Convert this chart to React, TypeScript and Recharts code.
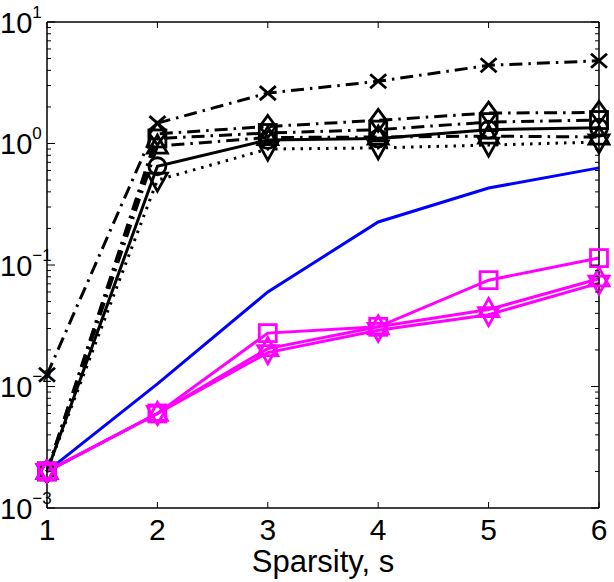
import React from 'react';
import { LineChart, Line, XAxis, YAxis } from 'recharts';

// sparsity levels on the x axis
const sparsity = [1, 2, 3, 4, 5, 6];

// black reference curves
const blackCross = [0.0125, 1.47, 2.6, 3.25, 4.4, 4.8];
const blackDiamond = [0.002, 1.2, 1.38, 1.55, 1.78, 1.8];
const blackSquare = [0.002, 1.1, 1.22, 1.3, 1.5, 1.56];
const blackCircle = [0.002, 0.65, 1.07, 1.1, 1.3, 1.35];
const blackTriUp = [0.002, 0.95, 1.12, 1.13, 1.15, 1.13];
const blackTriDown = [0.002, 0.5, 0.9, 0.92, 0.97, 1.03];

// blue curve (no markers)
const blueLine = [0.002, 0.0105, 0.06, 0.226, 0.43, 0.63];

// magenta curves
const magSquare = [0.002, 0.006, 0.0275, 0.031, 0.075, 0.114];
const magTriUp = [0.002, 0.006, 0.0205, 0.031, 0.043, 0.077];
const magTriDown = [0.002, 0.006, 0.019, 0.029, 0.039, 0.071];

// log ticks: 1..9 per decade from 1e-3 up to 1e1
const decadeExps = [-3, -2, -1, 0];
const yTicks: number[] = [];
decadeExps.forEach(e => {
  for (let m = 1; m <= 9; m++) yTicks.push(m * Math.pow(10, e));
});
yTicks.push(10);

const data = sparsity.map((s, i) => ({
  s,
  bCross: blackCross[i],
  bDiamond: blackDiamond[i],
  bSquare: blackSquare[i],
  bCircle: blackCircle[i],
  bTriUp: blackTriUp[i],
  bTriDown: blackTriDown[i],
  blue: blueLine[i],
  mSquare: magSquare[i],
  mTriUp: magTriUp[i],
  mTriDown: magTriDown[i],
}));

const FONT = '"Liberation Sans Narrow", "Arial Narrow", "Liberation Sans", Arial, sans-serif';
const MAGENTA = '#ff00ff';

const isDecade = (v: number) => {
  const l = Math.log10(v);
  return Math.abs(l - Math.round(l)) < 1e-6;
};

type Shape = 'x' | 'diamond' | 'square' | 'circle' | 'up' | 'down';

function Mark({ cx, cy, shape, color }: { cx: number; cy: number; shape: Shape; color: string }) {
  if (cx == null || cy == null) return null;
  const common = { fill: 'none', stroke: color, strokeWidth: 2.8 };
  switch (shape) {
    case 'x':
      return (
        <g {...common}>
          <line x1={cx - 8} y1={cy - 7} x2={cx + 8} y2={cy + 7} />
          <line x1={cx - 8} y1={cy + 7} x2={cx + 8} y2={cy - 7} />
        </g>
      );
    case 'diamond':
      return <polygon {...common} points={`${cx},${cy - 11} ${cx + 8},${cy} ${cx},${cy + 11} ${cx - 8},${cy}`} />;
    case 'square':
      return <rect {...common} x={cx - 8.5} y={cy - 8.5} width={17} height={17} />;
    case 'circle':
      return <circle {...common} cx={cx} cy={cy} r={8.5} />;
    case 'up':
      return <polygon {...common} points={`${cx},${cy - 11} ${cx + 10},${cy + 7} ${cx - 10},${cy + 7}`} />;
    case 'down':
      return <polygon {...common} points={`${cx},${cy + 11} ${cx + 10},${cy - 7} ${cx - 10},${cy - 7}`} />;
  }
  return null;
}

const dotFor = (shape: Shape, color: string) => (p: any) => (
  <Mark key={`${shape}-${color}-${p.index}`} cx={p.cx} cy={p.cy} shape={shape} color={color} />
);

const expText = (e: number) => (e < 0 ? `\u2212${-e}` : `${e}`);

function LeftTick({ x, y, payload }: any) {
  const v = payload.value;
  const major = isDecade(v);
  return (
    <g>
      <line x1={x} x2={x + (major ? 8 : 4)} y1={y} y2={y} stroke="#000" strokeWidth={1} />
      {major && (
        <text x={x - 47} y={y + 10.5} fontSize={29} fontFamily={FONT} fill="#000">
          10
          <tspan dy={-15} fontSize={17}>
            {expText(Math.round(Math.log10(v)))}
          </tspan>
        </text>
      )}
    </g>
  );
}

function RightTick({ x, y, payload }: any) {
  const major = isDecade(payload.value);
  return <line x1={x} x2={x - (major ? 8 : 4)} y1={y} y2={y} stroke="#000" strokeWidth={1} />;
}

function BottomTick({ x, y, payload }: any) {
  return (
    <g>
      <line x1={x} x2={x} y1={y} y2={y - 6} stroke="#000" strokeWidth={1} />
      <text x={x} y={y + 32} textAnchor="middle" fontSize={30} fontFamily={FONT} fill="#000">
        {payload.value}
      </text>
    </g>
  );
}

function TopTick({ x, y }: any) {
  return <line x1={x} x2={x} y1={y} y2={y + 6} stroke="#000" strokeWidth={1} />;
}

const dashDot = '13 6 2.5 6';
const dotted = '2.5 6';

export default function App() {
  return (
    <div style={{ position: 'absolute', left: 0, top: 0, background: '#fff' }}>
      <LineChart width={614} height={582} data={data} margin={{ top: 21, right: 14, bottom: 0, left: 0 }}>
        <XAxis
          dataKey="s"
          type="number"
          domain={[1, 6]}
          ticks={sparsity}
          interval={0}
          height={74}
          tickSize={0}
          tickMargin={0}
          tickLine={false}
          axisLine={{ stroke: '#000', strokeWidth: 1.5 }}
          tick={<BottomTick />}
          label={{ value: 'Sparsity, s', position: 'insideBottom', offset: 10, fontSize: 31, fontFamily: FONT, fill: '#000' }}
        />
        <XAxis
          xAxisId="top"
          orientation="top"
          dataKey="s"
          type="number"
          domain={[1, 6]}
          ticks={sparsity}
          interval={0}
          height={1}
          tickSize={0}
          tickMargin={0}
          tickLine={false}
          axisLine={{ stroke: '#000', strokeWidth: 1.5 }}
          tick={<TopTick />}
        />
        <YAxis
          type="number"
          scale="log"
          domain={[0.001, 10]}
          ticks={yTicks}
          interval={0}
          width={47}
          tickSize={0}
          tickMargin={0}
          tickLine={false}
          axisLine={{ stroke: '#000', strokeWidth: 1.5 }}
          tick={<LeftTick />}
        />
        <YAxis
          yAxisId="right"
          orientation="right"
          type="number"
          scale="log"
          domain={[0.001, 10]}
          allowDataOverflow
          ticks={yTicks}
          interval={0}
          width={1}
          tickSize={0}
          tickMargin={0}
          tickLine={false}
          axisLine={{ stroke: '#000', strokeWidth: 1.5 }}
          tick={<RightTick />}
        />

        <Line dataKey="bCross" stroke="#000" strokeWidth={3} strokeDasharray={dashDot} dot={dotFor('x', '#000')} activeDot={false} isAnimationActive={false} />
        <Line dataKey="bDiamond" stroke="#000" strokeWidth={3} strokeDasharray={dashDot} dot={dotFor('diamond', '#000')} activeDot={false} isAnimationActive={false} />
        <Line dataKey="bSquare" stroke="#000" strokeWidth={3} strokeDasharray={dashDot} dot={dotFor('square', '#000')} activeDot={false} isAnimationActive={false} />
        <Line dataKey="bTriUp" stroke="#000" strokeWidth={3} strokeDasharray={dashDot} dot={dotFor('up', '#000')} activeDot={false} isAnimationActive={false} />
        <Line dataKey="bCircle" stroke="#000" strokeWidth={3} dot={dotFor('circle', '#000')} activeDot={false} isAnimationActive={false} />
        <Line dataKey="bTriDown" stroke="#000" strokeWidth={3} strokeDasharray={dotted} dot={dotFor('down', '#000')} activeDot={false} isAnimationActive={false} />

        <Line dataKey="blue" stroke="#0000ff" strokeWidth={3} dot={false} activeDot={false} isAnimationActive={false} />

        <Line dataKey="mSquare" stroke={MAGENTA} strokeWidth={3} dot={dotFor('square', MAGENTA)} activeDot={false} isAnimationActive={false} />
        <Line dataKey="mTriUp" stroke={MAGENTA} strokeWidth={3} dot={dotFor('up', MAGENTA)} activeDot={false} isAnimationActive={false} />
        <Line dataKey="mTriDown" stroke={MAGENTA} strokeWidth={3} dot={dotFor('down', MAGENTA)} activeDot={false} isAnimationActive={false} />
      </LineChart>
    </div>
  );
}
